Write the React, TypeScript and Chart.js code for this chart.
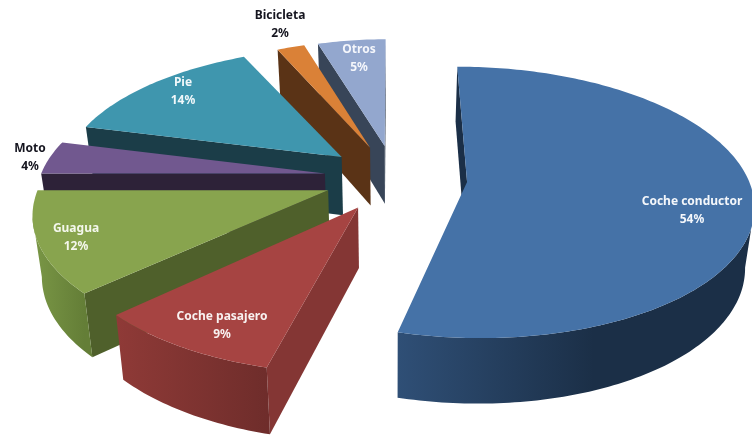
import React, { useEffect, useRef } from "react";
import { Chart, registerables } from "chart.js";

Chart.register(...registerables);

const categories = ["Coche conductor", "Coche pasajero", "Guagua", "Moto", "Pie", "Bicicleta", "Otros"];
const shares = [54, 9, 12, 4, 14, 2, 5];

// Colour of the top face, the cut faces, and the two ends of the rim shading.
const topColors = ["#4572A7", "#A64442", "#88A44E", "#71588F", "#3F96AE", "#DA8137", "#93A7CE"];
const cutColors = ["#1B2F47", "#843634", "#4F602B", "#2D2238", "#1B3D48", "#5A3316", "#384558"];
const rimFrom = ["#2F4F76", "#8F3A37", "#7A9746", "#3A2D4A", "#24505E", "#6E3F1C", "#475870"];
const rimTo = ["#1B2F47", "#6F2D2B", "#647E37", "#2D2238", "#1B3D48", "#5A3316", "#384558"];

// Horizontal stretch of each slice's rim on the tilted plane.
const rimWidth = [1, 1.005, 1.02, 1.015, 1.005, 0.93, 0.92];

// Where each caption sits.
const captionAnchors: [number, number][] = [
  [692, 211], [222, 326], [76, 238], [30, 158], [183, 92], [280, 25], [359, 59],
];
const captionColors = ["#F4F7FB", "#F8F1F0", "#F4F7EC", "#15151F", "#F1F8FA", "#15151F", "#F4F6FB"];

// Camera looking down on the disc: plane units are pie radii.
const RADIUS = 150;
const EXPLODE = 0.255;
const HORIZON = -700;
const VANISH_X = 392;
const SPREAD = 0.32;
const DEPTH_BASE = 0.0011338;
const DEPTH_SLOPE = 0.0001705;
const SHIFT_X = 0.013;
const SHIFT_Y = -0.032;

type Pt = { x: number; y: number };

const project = (px: number, py: number): Pt => {
  const X = px + SHIFT_X;
  const Y = py + SHIFT_Y;
  const q = DEPTH_BASE - DEPTH_SLOPE * Y;
  return { x: VANISH_X + (SPREAD * X) / q, y: 1 / q + HORIZON };
};

// The foot of a point on the top face, at the bottom of the extruded wall.
const foot = (p: Pt): Pt => ({
  x: p.x + 0.026 * (VANISH_X - p.x),
  y: p.y + 52 + 0.04 * p.y,
});

const fillWall = (ctx: CanvasRenderingContext2D, pts: Pt[], fill: string | CanvasGradient) => {
  if (pts.length < 2) return;
  ctx.beginPath();
  pts.forEach((p, i) => (i ? ctx.lineTo(p.x, p.y) : ctx.moveTo(p.x, p.y)));
  [...pts].reverse().forEach((p) => {
    const f = foot(p);
    ctx.lineTo(f.x, f.y);
  });
  ctx.closePath();
  ctx.fillStyle = fill;
  ctx.fill();
};

const extrudedPie = {
  id: "extrudedPie",
  beforeDatasetsDraw(chart: any) {
    const ctx: CanvasRenderingContext2D = chart.ctx;
    const arcs = chart.getDatasetMeta(0).data;
    // Back slices first, so the nearer ones cover their walls.
    for (let i = arcs.length - 1; i >= 0; i--) {
      const arc = arcs[i];
      const { startAngle, endAngle, outerRadius } = arc.getProps(["startAngle", "endAngle", "outerRadius"]);
      const off = arc.options.offset / outerRadius;
      const mid = (startAngle + endAngle) / 2;
      const ox = Math.cos(mid) * off;
      const oy = Math.sin(mid) * off;
      const apex = project(ox, oy);
      const steps = Math.max(4, Math.ceil(((endAngle - startAngle) * 180) / Math.PI));
      const rim: Pt[] = [];
      for (let s = 0; s <= steps; s++) {
        const a = startAngle + ((endAngle - startAngle) * s) / steps;
        rim.push(project(ox + rimWidth[i] * Math.cos(a), oy + Math.sin(a)));
      }
      const first = rim[0];
      const last = rim[rim.length - 1];
      if (first.x < apex.x) fillWall(ctx, [apex, first], cutColors[i]);
      if (apex.x < last.x) fillWall(ctx, [last, apex], cutColors[i]);

      const front = rim.filter((p, k) => (k > 0 && p.x < rim[k - 1].x) || (k < rim.length - 1 && rim[k + 1].x < p.x));
      if (front.length > 1) {
        const xs = front.map((p) => p.x);
        const left = Math.min(...xs);
        const right = Math.max(...xs);
        const shade = ctx.createLinearGradient(left, 0, right, 0);
        shade.addColorStop(0, rimFrom[i]);
        shade.addColorStop(i === 0 ? 0.55 : 1, rimTo[i]);
        shade.addColorStop(1, rimTo[i]);
        fillWall(ctx, front, shade);
      }

      ctx.beginPath();
      ctx.moveTo(apex.x, apex.y);
      rim.forEach((p) => ctx.lineTo(p.x, p.y));
      ctx.closePath();
      ctx.fillStyle = arc.options.backgroundColor;
      ctx.fill();
    }
    return false;
  },
  afterDraw(chart: any) {
    const ctx: CanvasRenderingContext2D = chart.ctx;
    ctx.save();
    ctx.font = 'bold 12px "Noto Sans"';
    ctx.textAlign = "center";
    ctx.textBaseline = "middle";
    categories.forEach((name, i) => {
      const [x, y] = captionAnchors[i];
      ctx.fillStyle = captionColors[i];
      ctx.fillText(name, x, y - 9);
      ctx.fillText(`${shares[i]}%`, x, y + 9);
    });
    ctx.restore();
  },
};

export default function App() {
  const ref = useRef<HTMLCanvasElement>(null);
  useEffect(() => {
    if (!ref.current) return;
    const chart = new Chart(ref.current, {
      type: "pie",
      data: {
        labels: categories,
        datasets: [{ data: shares, backgroundColor: topColors, borderWidth: 0, offset: EXPLODE * RADIUS, hoverOffset: 0 }],
      },
      options: {
        responsive: false,
        animation: false,
        radius: RADIUS,
        layout: { padding: 0 },
        plugins: { legend: { display: false }, tooltip: { enabled: false } },
      },
      plugins: [extrudedPie],
    } as any);
    return () => chart.destroy();
  }, []);
  return (
    <div style={{ position: "fixed", left: 0, top: 0, width: 752, height: 436, background: "#fff" }}>
      <canvas ref={ref} width={752} height={436} style={{ display: "block" }} />
    </div>
  );
}
